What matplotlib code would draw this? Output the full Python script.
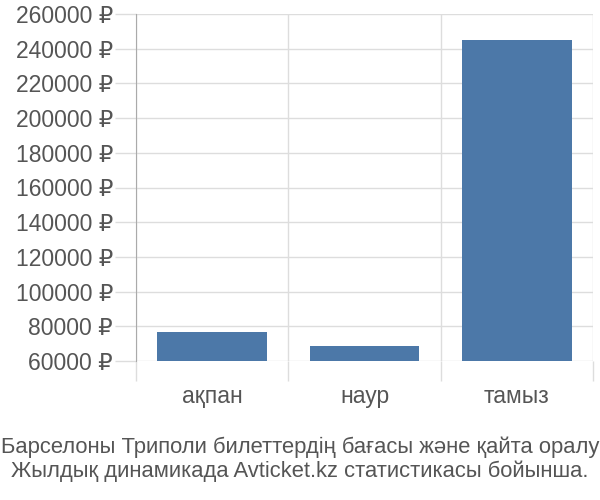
import matplotlib
matplotlib.use('Agg')
import matplotlib.pyplot as plt

months = ['ақпан', 'наур', 'тамыз']
prices = [76500, 68800, 245000]
yticks = [60000, 80000, 100000, 120000, 140000, 160000, 180000, 200000, 220000, 240000, 260000]
caption = 'Барселоны Триполи билеттердің бағасы және қайта оралу\nЖылдық динамикада Avticket.kz статистикасы бойынша.'

plt.rcParams['font.family'] = ['Liberation Sans', 'DejaVu Sans']

fig = plt.figure(figsize=(6, 5), dpi=100)
ax = fig.add_axes([136/600, 1 - 361/500, (593 - 136)/600, (361 - 14)/500])

x = range(len(months))
ax.bar(x, [p - 60000 for p in prices], bottom=60000, width=0.72, color='#4c78a8', zorder=3)

ax.set_xlim(-0.5, 2.5)
ax.set_ylim(60000, 260000)
ax.set_yticks(yticks)
ax.set_yticklabels([f'{v} ₽' for v in yticks])
ax.grid(axis='y', color='#dddddd', linewidth=1, zorder=0)

ax.set_xticks(list(x))
ax.set_xticklabels(months)
ax.set_xticks([-0.5, 0.5, 1.5, 2.5], minor=True)
ax.grid(axis='x', which='minor', color='#dddddd', linewidth=1, zorder=0)
ax.tick_params(axis='x', which='major', length=0, pad=17, labelsize=16.5, labelcolor='#555555')
ax.tick_params(axis='x', which='minor', length=14.4, color='#dddddd', width=1)
ax.tick_params(axis='y', length=15, color='#dddddd', width=1, pad=1.5, labelsize=16.5, labelcolor='#555555')

for s in ['top', 'right', 'bottom']:
    ax.spines[s].set_visible(False)
ax.spines['left'].set_color('#aaaaaa')
ax.spines['left'].set_bounds(60000, 260000)

fig.text(0.5, 0.081, caption, ha='center', va='center', fontsize=15.8, color='#555555', linespacing=1.15)

fig.savefig('out.png', dpi=100)
